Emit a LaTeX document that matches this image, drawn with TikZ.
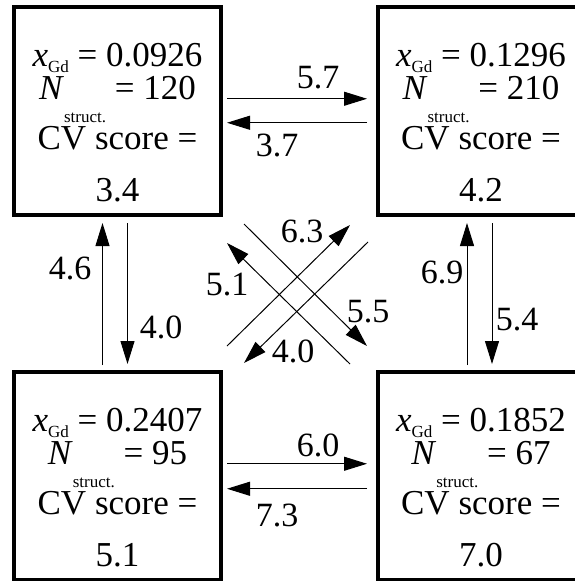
\documentclass[tikz,border=0pt]{standalone}
\usepackage{fontspec}
\setmainfont{Liberation Serif}
\usetikzlibrary{arrows.meta,positioning}
\definecolor{ink}{RGB}{0,0,0}
\newcommand{\lowsub}[2]{\raisebox{-#2}[0pt][0pt]{\fontsize{17}{17}\selectfont #1}}
\tikzset{
  >={Triangle[length=23pt,width=14pt]},
  box/.style={draw=ink,line width=4pt,minimum width=207pt,minimum height=207.5pt,
    inner sep=0pt,outer sep=0pt,align=center,text height=182pt,text depth=0pt,
    font=\fontsize{35}{50}\selectfont},
  flow/.style={->,line width=1pt,draw=ink},
  tag/.style={font=\fontsize{34}{40}\selectfont,text=ink,inner sep=0pt},
}

\begin{document}
\begin{tikzpicture}[x=1pt,y=-1pt,node distance=156.5pt]
  \useasboundingbox (0,0) rectangle (574,581);
  % the four structures
  \node[box] (tl) at (117.5,110.75)
    {\textit{x}\lowsub{Gd}{6pt} = 0.0926\\[-17pt]\textit{N}\lowsub{struct.}{23pt} = 120\\CV score =\\[2pt]3.4};
  \node[box,right=of tl] (tr)
    {\textit{x}\lowsub{Gd}{6pt} = 0.1296\\[-17pt]\textit{N}\lowsub{struct.}{23pt} = 210\\CV score =\\[2pt]4.2};
  \node[box,below=157.5pt of tl] (bl)
    {\textit{x}\lowsub{Gd}{6pt} = 0.2407\\[-17pt]\textit{N}\lowsub{struct.}{23pt} = 95\\CV score =\\[2pt]5.1};
  \node[box,right=of bl] (br)
    {\textit{x}\lowsub{Gd}{6pt} = 0.1852\\[-17pt]\textit{N}\lowsub{struct.}{23pt} = 67\\CV score =\\[2pt]7.0};

  % horizontal pairs
  \draw[flow,shorten <=6pt,shorten >=10.5pt] ([yshift=12pt]tl.east) -- ([yshift=12pt]tr.west);
  \draw[flow,shorten <=10.5pt,shorten >=6pt] ([yshift=-12pt]tr.west) -- ([yshift=-12pt]tl.east);
  \draw[flow,shorten <=6pt,shorten >=10.5pt] ([yshift=12pt]bl.east) -- ([yshift=12pt]br.west);
  \draw[flow,shorten <=10.5pt,shorten >=6pt] ([yshift=-13pt]br.west) -- ([yshift=-13pt]bl.east);

  % vertical pairs
  \draw[flow,shorten <=7pt,shorten >=8.5pt] ([xshift=-15pt]bl.north) -- ([xshift=-15pt]tl.south);
  \draw[flow,shorten <=8.5pt,shorten >=8pt] ([xshift=10pt]tl.south) -- ([xshift=10pt]bl.north);
  \draw[flow,shorten <=7pt,shorten >=8.5pt] ([xshift=-14pt]br.north) -- ([xshift=-14pt]tr.south);
  \draw[flow,shorten <=8.5pt,shorten >=8pt] ([xshift=11pt]tr.south) -- ([xshift=11pt]br.north);

  % diagonals
  \draw[flow] ([shift={(6,-26)}]bl.north east) -- ([shift={(-27.5,10.5)}]tr.south west);
  \draw[flow] ([shift={(-9.5,27.5)}]tr.south west) -- ([shift={(23,-9)}]bl.north east);
  \draw[flow] ([shift={(23,9.5)}]tl.south east) -- ([shift={(-10.5,-26)}]br.north west);
  \draw[flow] ([shift={(-27.5,-8)}]br.north west) -- ([shift={(6,28.5)}]tl.south east);

  % rates
  \foreach \v/\x/\y [count=\i] in {5.7/318/78,3.7/277/145,6.0/318/445,7.3/277/515,
      4.6/70/268,4.0/161/327,6.9/442/272,5.4/517/320,
      6.3/302/231,5.1/227/285,5.5/368/312,4.0/293/351}
    \node[tag] (r\i) at (\x,\y) {\v};
\end{tikzpicture}
\end{document}
